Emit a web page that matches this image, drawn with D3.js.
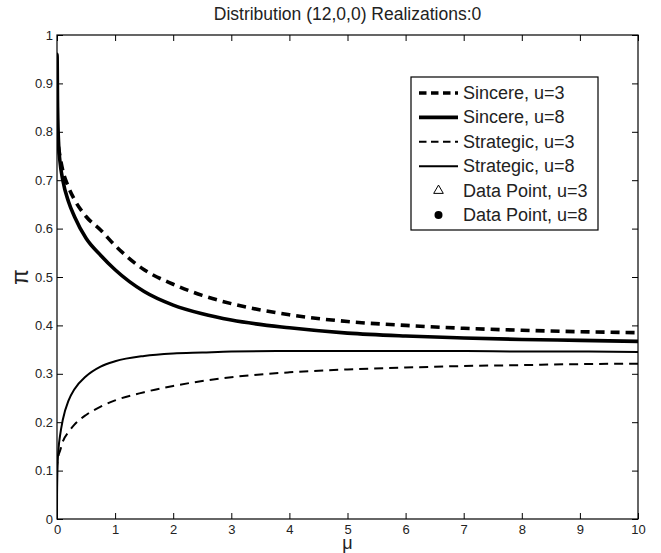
<!DOCTYPE html>
<html><head><meta charset="utf-8">
<script src="https://cdn.jsdelivr.net/npm/d3@7"></script>
<style>body{margin:0;background:#fff}svg{display:block}text{font-family:"Liberation Sans",Arial,Helvetica,sans-serif}</style>
</head><body><svg id="c" width="661" height="553"></svg>
<script>
const title = "Distribution (12,0,0) Realizations:0";
const xTicks = [0,1,2,3,4,5,6,7,8,9,10];
const yTicks = [0,0.1,0.2,0.3,0.4,0.5,0.6,0.7,0.8,0.9,1];
const mu = [0,0.001,0.01,0.03,0.05,0.1,0.2,0.3,0.5,0.75,1,1.5,2,2.5,3,4,5,6,7,8,9,10];
const sincereU3 = [0.80,0.80,0.785,0.765,0.75,0.72,0.685,0.66,0.625,0.597,0.565,0.515,0.485,0.462,0.445,0.422,0.408,0.400,0.394,0.390,0.387,0.385];
const sincereU8 = [0.96,0.96,0.85,0.77,0.74,0.70,0.655,0.625,0.58,0.545,0.515,0.47,0.442,0.424,0.411,0.395,0.384,0.378,0.374,0.371,0.369,0.367];
const strategicU3 = [0.10,0.11,0.12,0.133,0.14,0.16,0.18,0.195,0.215,0.232,0.245,0.262,0.275,0.285,0.293,0.303,0.309,0.313,0.316,0.318,0.320,0.321];
const strategicU8 = [0.0,0.05,0.11,0.15,0.17,0.205,0.245,0.268,0.295,0.315,0.326,0.337,0.342,0.344,0.346,0.347,0.347,0.347,0.347,0.346,0.346,0.345];
const legendLabels = ["Sincere, u=3","Sincere, u=8","Strategic, u=3","Strategic, u=8","Data Point, u=3","Data Point, u=8"];

const svg = d3.select("#c");
const L=57,R=638,T=35,B=519;
const x = d3.scaleLinear().domain([0,10]).range([L,R]);
const y = d3.scaleLinear().domain([0,1]).range([B,T]);

const series = [
  {v:sincereU3, w:3.6, dash:"9,6"},
  {v:sincereU8, w:3.6, dash:null},
  {v:strategicU3, w:2, dash:"9,6"},
  {v:strategicU8, w:2, dash:null}
];
const line = d3.line().x((d,i)=>x(mu[i])).y(d=>y(d)).curve(d3.curveMonotoneX);
const g = svg.append("g");
g.append("clipPath").attr("id","clip").append("rect").attr("x",L).attr("y",T).attr("width",R-L).attr("height",B-T);
series.forEach(s=>{
  g.append("path").attr("d",line(s.v)).attr("fill","none").attr("stroke","#000")
   .attr("stroke-width",s.w).attr("stroke-dasharray",s.dash).attr("clip-path","url(#clip)");
});

// axes
const tl=6;
const ax = svg.append("g").attr("transform",`translate(0,${B})`).call(d3.axisBottom(x).tickValues(xTicks).tickSize(-tl).tickFormat(d3.format("d")).tickPadding(6));
const axT = svg.append("g").attr("transform",`translate(0,${T})`).call(d3.axisTop(x).tickValues(xTicks).tickSize(-tl).tickFormat(""));
const ay = svg.append("g").attr("transform",`translate(${L},0)`).call(d3.axisLeft(y).tickValues(yTicks).tickSize(-tl).tickFormat(d=>d3.format("")(+d.toFixed(1))).tickPadding(4));
const ayR = svg.append("g").attr("transform",`translate(${R},0)`).call(d3.axisRight(y).tickValues(yTicks).tickSize(-tl).tickFormat(""));
[ax,axT,ay,ayR].forEach(a=>{a.select(".domain").remove();a.selectAll("line").attr("stroke","#000");a.selectAll("text").attr("font-size",13).attr("fill","#222").attr("font-family","Liberation Sans, Arial, sans-serif");});
svg.append("rect").attr("x",L).attr("y",T).attr("width",R-L).attr("height",B-T).attr("fill","none").attr("stroke","#000").attr("stroke-width",1.2);

svg.append("text").attr("x",(L+R)/2).attr("y",20).attr("text-anchor","middle").attr("font-size",17.5).attr("fill","#222").text(title);
svg.append("text").attr("x",(L+R)/2).attr("y",549).attr("text-anchor","middle").attr("font-size",18).attr("font-family","DejaVu Serif, serif").attr("fill","#222").text("μ");
svg.append("text").attr("transform","translate(28,277) rotate(-90)").attr("text-anchor","middle").attr("font-size",23).attr("font-family","DejaVu Serif, serif").attr("fill","#222").text("π");

// legend
const lg = svg.append("g");
lg.append("rect").attr("x",411).attr("y",77).attr("width",187).attr("height",153).attr("fill","#fff").attr("stroke","#000").attr("stroke-width",1.2);
const rowY = d3.range(6).map(i=>93+i*24.4);
legendLabels.forEach((lab,i)=>{
  const yy=rowY[i];
  if(i<4){
    const s=series[i];
    lg.append("line").attr("x1",419).attr("x2",458).attr("y1",yy).attr("y2",yy).attr("stroke","#000").attr("stroke-width",s.w).attr("stroke-dasharray",s.dash?"7.5,4.5":null);
  } else if(i===4){
    lg.append("path").attr("d",d3.symbol(d3.symbolTriangle,40)()).attr("transform",`translate(438.5,${yy})`).attr("fill","none").attr("stroke","#000").attr("stroke-width",1);
  } else {
    lg.append("circle").attr("cx",438.5).attr("cy",yy).attr("r",4).attr("fill","#000");
  }
  lg.append("text").attr("x",463).attr("y",yy+6).attr("font-size",18).attr("fill","#222").text(lab);
});
</script></body></html>
